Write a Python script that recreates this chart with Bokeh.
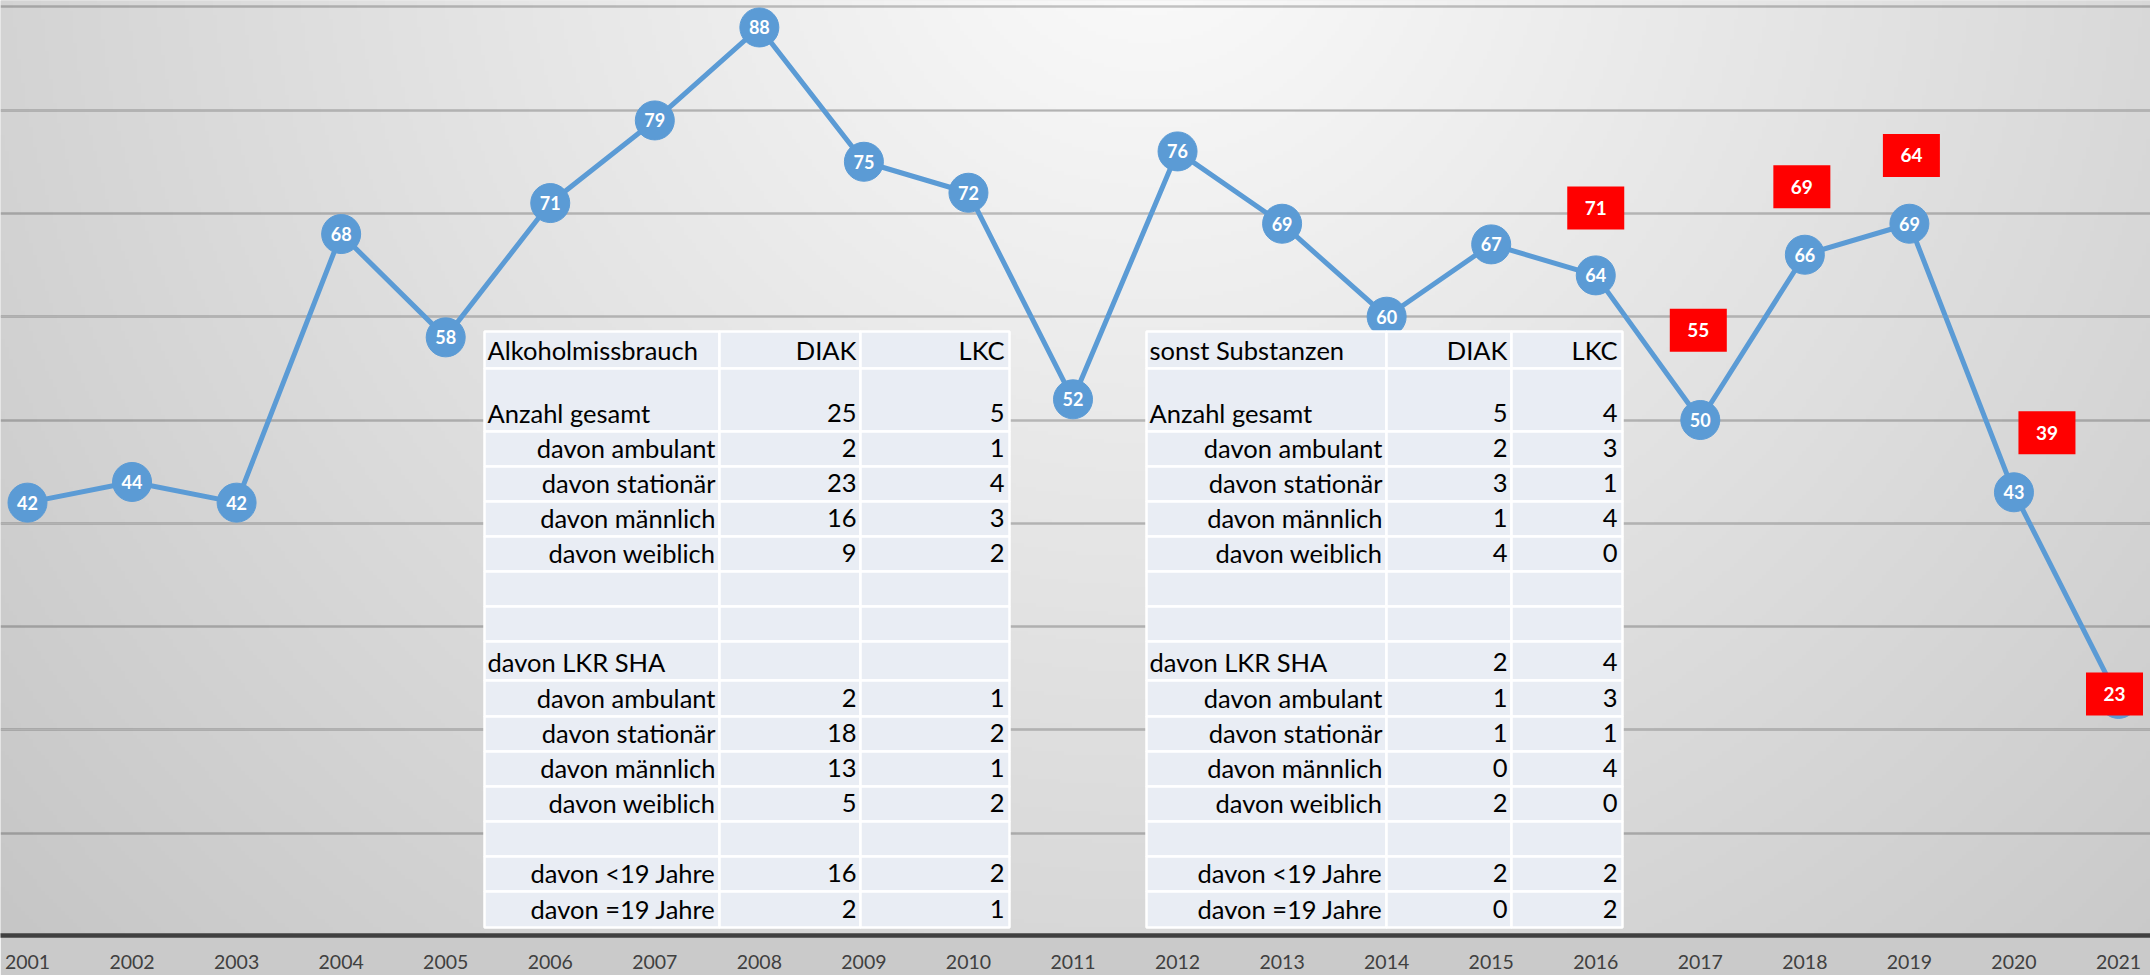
import numpy as np
from bokeh.plotting import figure
from bokeh.models import ColumnDataSource, Range1d, FixedTicker, Grid
from bokeh.core.properties import value
from bokeh.embed import file_html
from bokeh.resources import INLINE

# ---------------- data ----------------
years = list(range(2001, 2022))
cases = [42, 44, 42, 68, 58, 71, 79, 88, 75, 72, 52, 76, 69, 60, 67, 64, 50, 66, 69, 43, 23]
red_years = [2016, 2017, 2018, 2019, 2020, 2021]
red_values = [71, 55, 69, 64, 39, 23]

alk_labels = ["Alkoholmissbrauch", "Anzahl gesamt", "davon ambulant", "davon stationär",
              "davon männlich", "davon weiblich", "", "", "davon LKR SHA", "davon ambulant",
              "davon stationär", "davon männlich", "davon weiblich", "", "davon <19 Jahre",
              "davon =19 Jahre"]
alk_diak = ["DIAK", "25", "2", "23", "16", "9", "", "", "", "2", "18", "13", "5", "", "16", "2"]
alk_lkc = ["LKC", "5", "1", "4", "3", "2", "", "", "", "1", "2", "1", "2", "", "2", "1"]

sub_labels = ["sonst Substanzen", "Anzahl gesamt", "davon ambulant", "davon stationär",
              "davon männlich", "davon weiblich", "", "", "davon LKR SHA", "davon ambulant",
              "davon stationär", "davon männlich", "davon weiblich", "", "davon <19 Jahre",
              "davon =19 Jahre"]
sub_diak = ["DIAK", "5", "2", "3", "1", "4", "", "", "2", "1", "1", "0", "2", "", "2", "0"]
sub_lkc = ["LKC", "4", "3", "1", "4", "0", "", "", "4", "3", "1", "4", "0", "", "2", "2"]

# ---------------- layout (page pixels) ----------------
W, H = 2150, 975
X_FIRST = 27.0          # x of first year
X_STEP = 104.55         # px per year
Y_ZERO = 936.0          # y of value 0
Y_UNIT = 10.33          # px per unit
FRAME_BOTTOM = 935.0
TEXT_LIFT = 19          # baseline distance above cell bottom

x_lo = years[0] - X_FIRST / X_STEP
x_hi = years[0] + (W - X_FIRST) / X_STEP
y_hi = Y_ZERO / Y_UNIT
y_lo = (Y_ZERO - FRAME_BOTTOM) / Y_UNIT

# manual label placement of red boxes (screen px offsets)
red_dx = [0, -2, -3, 2, 33, -4]
red_dy = [5, -38, -37, -120, -101, -5]

row_bounds = [331, 368, 431, 466, 501, 536, 571, 606, 641, 680, 716, 751, 786, 821, 856, 891, 927]
left_rows = {0, 1, 8}
tables = [
    ([484, 719, 860, 1009], alk_labels, alk_diak, alk_lkc),
    ([1146, 1386, 1511, 1622], sub_labels, sub_diak, sub_lkc),
]

p = figure(width=W, height=H, output_backend="svg", toolbar_location=None,
           x_range=Range1d(x_lo, x_hi), y_range=Range1d(y_lo, y_hi),
           y_axis_location=None, min_border_left=0, min_border_right=0,
           min_border_top=0, min_border_bottom=int(H - FRAME_BOTTOM), outline_line_color=None,
           border_fill_color="#cacaca", background_fill_color="#dddddd")
p.extra_x_ranges = {"px": Range1d(0, W)}
p.extra_y_ranges = {"py": Range1d(FRAME_BOTTOM, 0)}

# background gradient (radial, light at top centre)
step = 4
gx = np.arange(0, W, step) + step / 2
gy = FRAME_BOTTOM - (np.arange(0, FRAME_BOTTOM, step) + step / 2)
XX, YY = np.meshgrid(gx, gy)
d = np.sqrt((XX - 1150.0) ** 2 + (YY + 100.0) ** 2)
g = np.clip(252 - 0.035 * d, 0, 255).astype(np.uint32)
img = ((255 << 24) | (g << 16) | (g << 8) | g).astype(np.uint32)
p.image_rgba(image=[img], x=x_lo, y=y_lo, dw=x_hi - x_lo,
             dh=(FRAME_BOTTOM - gy.min() + step / 2) / Y_UNIT, level="image")

# grid
p.xgrid.visible = False
grid = Grid(dimension=1, ticker=FixedTicker(ticks=[10, 20, 30, 40, 50, 60, 70, 80, 90]),
            grid_line_color="#000000", grid_line_alpha=0.22, grid_line_width=2.5)
p.add_layout(grid)

# x axis
ax = p.xaxis[0]
ax.ticker = FixedTicker(ticks=years)
ax.major_tick_line_color = None
ax.minor_tick_line_color = None
ax.axis_line_color = "#404040"
ax.axis_line_width = 4.5
ax.major_label_standoff = 13
ax.major_label_text_font = "Lato"
ax.major_label_text_font_size = "19.5px"
ax.major_label_text_color = "#404040"

# line series
src = ColumnDataSource(dict(x=years, y=cases, label=[str(v) for v in cases]))
p.line("x", "y", source=src, line_color="#5B9BD5", line_width=5)
p.scatter("x", "y", source=src, size=39, fill_color="#5B9BD5", line_color="#5B9BD5")
p.text("x", "y", text="label", source=src, text_color="white", text_font=value("Lato"),
       text_font_style="bold", text_font_size=value("18px"), text_align="center",
       text_baseline="middle")

# tables
for cols, labels, diak, lkc in tables:
    lefts, rights, tops, bottoms = [], [], [], []
    for r in range(len(row_bounds) - 1):
        for c in range(3):
            lefts.append(cols[c]); rights.append(cols[c + 1])
            tops.append(row_bounds[r]); bottoms.append(row_bounds[r + 1])
    p.quad(left=lefts, right=rights, top=tops, bottom=bottoms, fill_color="#E9EDF4",
           line_color="white", line_width=2.5, x_range_name="px", y_range_name="py")
    ny = [row_bounds[r + 1] - TEXT_LIFT for r in range(len(labels))]
    lx = [cols[0] + 3 if r in left_rows else cols[1] - 4 for r in range(len(labels))]
    la = ["left" if r in left_rows else "right" for r in range(len(labels))]
    tsrc = ColumnDataSource(dict(x=lx, y=ny, t=labels, a=la))
    p.text("x", "y", text="t", text_align="a", source=tsrc, x_range_name="px",
           y_range_name="py", text_font=value("Lato"), text_font_size=value("25.5px"),
           text_color="black", text_baseline="alphabetic")
    nsrc = ColumnDataSource(dict(x1=[cols[2] - 4] * len(diak), x2=[cols[3] - 5] * len(lkc),
                                 y=ny, d=diak, k=lkc))
    for xc, tc in (("x1", "d"), ("x2", "k")):
        p.text(xc, "y", text=tc, source=nsrc, x_range_name="px", y_range_name="py",
               text_font=value("Lato"), text_font_size=value("25.5px"), text_color="black",
               text_align="right", text_baseline="alphabetic")

# red boxes
rx = [yr + dx / X_STEP for yr, dx in zip(red_years, red_dx)]
ry = [v - dy / Y_UNIT for v, dy in zip(red_values, red_dy)]
rsrc = ColumnDataSource(dict(x=rx, y=ry, label=[str(v) for v in red_values]))
p.rect("x", "y", width=57, height=43, width_units="screen", height_units="screen",
       source=rsrc, fill_color="#FF0000", line_color=None)
p.text("x", "y", text="label", source=rsrc, text_color="white", text_font=value("Lato"),
       text_font_style="bold", text_font_size=value("19px"), text_align="center",
       text_baseline="middle")

open("out.html", "w").write(file_html(p, INLINE))
